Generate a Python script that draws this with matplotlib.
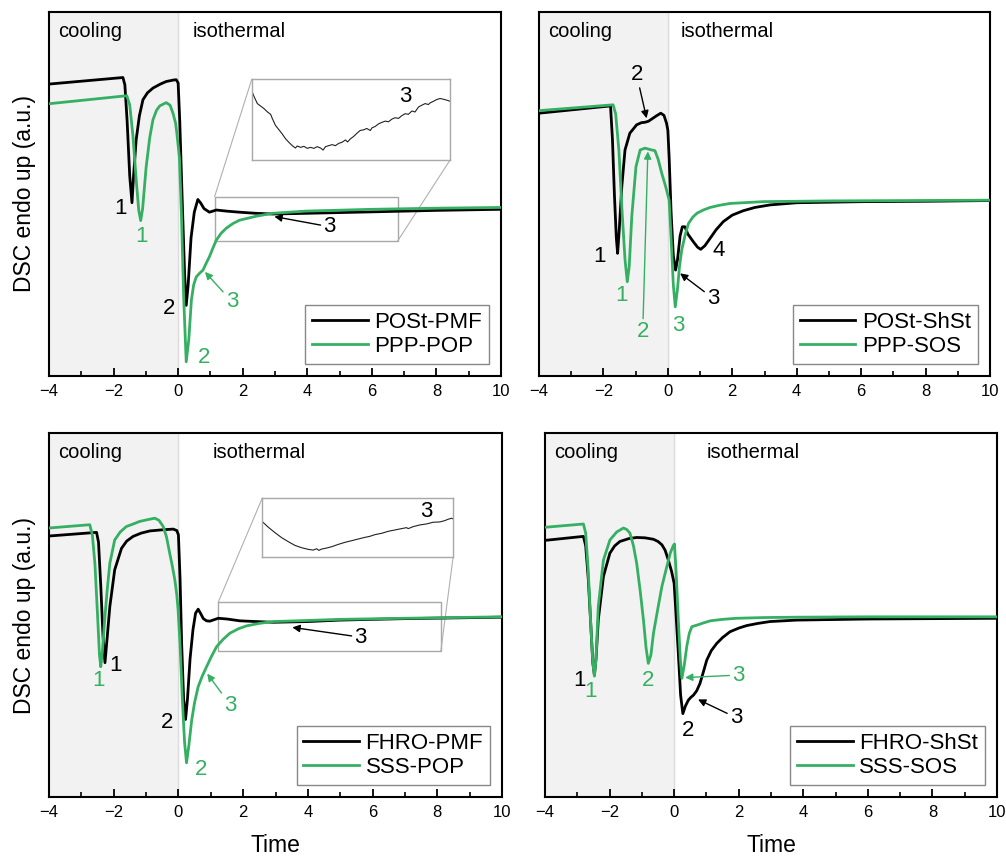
import matplotlib
matplotlib.use("Agg")
import matplotlib.pyplot as plt
from matplotlib.patches import Rectangle

plt.rcParams['font.family'] = ['Liberation Sans', 'DejaVu Sans']

GREEN = '#35b062'
GREY = '#9a9a9a'

# ---- data (time, arbitrary DSC units 0-100) ----
# top left: POSt-PMF / PPP-POP
tl_black_x = [-4.0, -1.71, -1.65, -1.58, -1.50, -1.43, -1.38, -1.30, -1.20, -1.09, -0.95, -0.78, -0.55,
              -0.37, -0.15, -0.06, 0.00, 0.05, 0.12, 0.20, 0.25, 0.31, 0.40, 0.50, 0.61, 0.70, 0.80,
              0.97, 1.18, 1.50, 1.90, 2.40, 2.93, 4.0, 6.03, 8.0, 10.0]
tl_black_y = [80.2, 82.0, 80.0, 70.0, 55.0, 47.6, 55.0, 64.9, 71.5, 75.9, 77.8, 79.1, 80.2,
              80.9, 81.3, 81.4, 80.5, 70.0, 50.0, 28.0, 19.4, 25.0, 38.0, 45.0, 48.5, 47.5, 46.0,
              45.0, 45.6, 45.3, 45.0, 44.7, 44.5, 44.7, 45.1, 45.5, 45.8]
tl_green_x = [-4.0, -1.59, -1.50, -1.40, -1.30, -1.22, -1.16, -1.10, -0.99, -0.88, -0.78, -0.67, -0.57,
              -0.37, -0.25, -0.16, -0.08, -0.04, 0.04, 0.10, 0.17, 0.25, 0.33, 0.41, 0.48, 0.56, 0.66,
              0.77, 0.87, 0.97, 1.08, 1.18, 1.33, 1.49, 1.70, 1.90, 2.42, 2.93, 3.96, 6.03, 8.0, 10.0]
tl_green_y = [74.8, 77.0, 74.5, 66.0, 54.0, 45.5, 42.7, 46.0, 57.5, 65.5, 70.4, 73.0, 74.2,
              75.1, 74.4, 72.2, 69.5, 66.7, 60.0, 45.0, 22.0, 3.9, 10.0, 20.8, 25.0, 27.2, 28.2,
              29.1, 31.0, 32.8, 35.2, 37.3, 39.2, 40.6, 41.9, 42.8, 43.9, 44.7, 45.3, 45.8, 46.1, 46.3]
tl_inset_x = [1.13, 1.20, 1.29, 1.39, 1.48, 1.58, 1.67, 1.72, 1.81, 1.91, 2.00, 2.10, 2.19, 2.29, 2.38,
              2.43, 2.53, 2.62, 2.72, 2.81, 2.91, 3.00, 3.10, 3.17, 3.24, 3.33, 3.43, 3.52, 3.62, 3.71,
              3.81, 3.87, 3.95, 4.04, 4.14, 4.23, 4.33, 4.42, 4.52, 4.57, 4.66, 4.76, 4.85, 4.95, 5.04,
              5.14, 5.23, 5.33, 5.42, 5.52, 5.61, 5.71, 5.80, 5.90, 5.99, 6.09, 6.18, 6.23, 6.33, 6.42,
              6.52, 6.61, 6.71, 6.80]
tl_inset_y = [85.8, 78.3, 70.0, 66.7, 63.8, 59.6, 56.7, 51.3, 42.9, 37.5, 32.5, 26.3, 22.1, 17.9, 15.0,
              17.5, 15.8, 17.1, 14.6, 15.8, 14.6, 16.7, 15.0, 12.5, 16.7, 17.9, 19.2, 17.9, 20.8, 22.1,
              25.0, 22.5, 26.3, 29.2, 33.3, 36.7, 37.5, 39.2, 36.7, 40.0, 41.7, 45.0, 46.7, 48.3, 47.5,
              50.8, 52.5, 51.7, 55.0, 57.5, 56.7, 60.8, 59.6, 65.8, 67.9, 70.0, 68.8, 70.8, 72.9, 75.0,
              76.3, 75.4, 74.2, 72.9]

# top right: POSt-ShSt / PPP-SOS
tr_black_x = [-4.0, -1.78, -1.72, -1.66, -1.60, -1.56, -1.51, -1.43, -1.33, -1.18, -0.97, -0.82, -0.71,
              -0.60, -0.50, -0.35, -0.22, -0.12, -0.04, 0.00, 0.04, 0.10, 0.17, 0.24, 0.30, 0.38, 0.45,
              0.53, 0.62, 0.79, 0.92, 1.02, 1.15, 1.31, 1.50, 1.72, 2.00, 2.34, 2.70, 3.17, 4.00, 6.07,
              8.0, 10.0]
tr_black_y = [72.2, 74.2, 65.0, 50.0, 38.0, 33.7, 40.0, 52.0, 62.1, 66.7, 69.0, 69.6, 69.7,
              70.0, 70.6, 71.5, 72.2, 71.6, 69.4, 67.5, 60.0, 45.0, 33.0, 29.1, 32.0, 38.5, 41.0,
              41.0, 39.0, 36.9, 35.4, 34.8, 35.8, 37.8, 40.2, 42.4, 44.2, 45.4, 46.3, 47.0, 47.6, 47.9,
              48.0, 48.2]
tr_green_x = [-4.0, -1.70, -1.62, -1.52, -1.42, -1.33, -1.26, -1.20, -1.12, -0.99, -0.86, -0.71, -0.55,
              -0.40, -0.30, -0.19, -0.10, -0.04, 0.04, 0.10, 0.17, 0.23, 0.30, 0.36, 0.43, 0.53, 0.64,
              0.77, 0.90, 1.10, 1.31, 1.60, 1.93, 2.97, 5.0, 10.0]
tr_green_y = [72.9, 74.5, 72.0, 62.0, 45.0, 32.0, 25.9, 30.0, 43.8, 57.5, 62.1, 62.6, 62.2,
              61.9, 59.5, 55.7, 53.0, 51.1, 48.3, 38.0, 25.0, 19.0, 24.0, 30.0, 34.6, 38.5, 41.9,
              43.6, 44.7, 45.6, 46.3, 46.9, 47.4, 47.9, 48.1, 48.3]

# bottom left: FHRO-PMF / SSS-POP
bl_black_x = [-4.0, -2.53, -2.47, -2.40, -2.33, -2.27, -2.20, -2.12, -1.97, -1.76, -1.60, -1.40, -1.15,
              -0.88, -0.50, -0.16, -0.05, 0.00, 0.05, 0.10, 0.16, 0.22, 0.28, 0.36, 0.45, 0.53, 0.61,
              0.68, 0.77, 0.87, 0.97, 1.10, 1.23, 1.50, 1.90, 2.40, 2.93, 4.0, 4.99, 7.0, 10.0]
bl_black_y = [71.7, 72.7, 70.0, 58.0, 44.0, 36.9, 44.0, 52.3, 62.4, 68.3, 70.3, 71.6, 72.5,
              73.1, 73.4, 73.6, 73.2, 72.0, 60.0, 42.0, 27.0, 21.3, 27.0, 38.0, 46.0, 50.5, 51.6,
              50.5, 49.0, 48.4, 48.3, 48.7, 49.1, 48.9, 48.4, 48.2, 48.0, 48.2, 48.6, 49.0, 49.4]
bl_green_x = [-4.0, -2.74, -2.66, -2.58, -2.50, -2.44, -2.40, -2.35, -2.28, -2.20, -2.12, -1.97, -1.80,
              -1.61, -1.40, -1.20, -0.95, -0.73, -0.60, -0.47, -0.37, -0.27, -0.19, -0.11, -0.05, -0.01,
              0.05, 0.12, 0.19, 0.25, 0.32, 0.41, 0.50, 0.61, 0.74, 0.87, 1.02, 1.18, 1.38, 1.59, 1.85,
              2.10, 2.50, 2.93, 4.0, 4.99, 7.0, 10.0]
bl_green_y = [73.9, 74.8, 72.0, 64.0, 50.0, 39.0, 35.8, 40.0, 48.6, 57.0, 64.2, 70.6, 72.8,
              74.3, 75.0, 75.7, 76.2, 76.6, 76.0, 74.3, 71.5, 67.0, 63.5, 59.6, 55.5, 51.4,
              42.0, 27.0, 15.0, 9.4, 14.0, 21.1, 26.0, 30.3, 33.3, 35.8, 38.6, 41.3, 43.3, 45.0, 46.2,
              47.0, 47.7, 48.2, 48.5, 48.8, 49.1, 49.5]
bl_inset_x = [1.23, 1.45, 1.69, 1.93, 2.17, 2.41, 2.65, 2.89, 3.07, 3.19, 3.27, 3.37, 3.55, 3.73, 3.97,
              4.21, 4.45, 4.69, 4.93, 5.11, 5.29, 5.53, 5.77, 6.01, 6.25, 6.43, 6.49, 6.67, 6.91, 7.15,
              7.39, 7.63, 7.81, 7.93, 8.05, 8.11]
bl_inset_y = [60.0, 50.3, 41.1, 32.6, 25.7, 19.4, 15.4, 12.6, 11.4, 13.7, 10.9, 13.1, 14.9, 17.1, 21.1,
              24.6, 27.4, 30.3, 33.1, 34.9, 37.7, 40.0, 43.4, 45.7, 48.0, 49.7, 48.0, 51.4, 54.3, 56.0,
              58.9, 59.4, 61.7, 64.0, 65.7, 64.6]

# bottom right: FHRO-ShSt / SSS-SOS
br_black_x = [-4.0, -2.81, -2.74, -2.66, -2.58, -2.52, -2.47, -2.42, -2.35, -2.19, -1.99, -1.84, -1.68,
              -1.40, -1.16, -0.90, -0.64, -0.50, -0.38, -0.28, -0.18, -0.08, 0.00, 0.06, 0.13, 0.20,
              0.27, 0.35, 0.44, 0.52, 0.60, 0.70, 0.80, 0.90, 1.01, 1.15, 1.32, 1.50, 1.73, 2.00, 2.25,
              2.60, 2.97, 3.80, 6.0, 10.0]
br_black_y = [70.5, 71.6, 69.0, 60.0, 47.0, 37.0, 33.5, 38.0, 48.6, 60.6, 67.0, 69.0, 70.2,
              71.0, 71.3, 71.2, 70.8, 70.2, 69.3, 67.8, 65.1, 62.0, 58.7, 50.0, 39.4, 28.0,
              22.9, 25.0, 26.6, 27.4, 28.0, 29.2, 31.2, 34.2, 37.6, 40.2, 42.2, 43.8, 45.4, 46.4, 47.1,
              47.7, 48.2, 48.6, 48.9, 49.1]
br_green_x = [-4.0, -2.81, -2.74, -2.66, -2.58, -2.52, -2.47, -2.42, -2.35, -2.19, -1.99, -1.78, -1.57,
              -1.47, -1.37, -1.26, -1.16, -1.05, -0.95, -0.87, -0.80, -0.72, -0.64, -0.50, -0.38, -0.25,
              -0.12, -0.03, 0.01, 0.06, 0.13, 0.19, 0.24, 0.31, 0.39, 0.47, 0.55, 0.70, 0.90, 1.12, 1.50,
              1.94, 2.80, 3.80, 6.0, 10.0]
br_green_y = [74.1, 75.0, 72.5, 62.0, 47.0, 37.0, 33.2, 38.0, 52.3, 65.1, 70.6, 72.8, 73.9,
              73.5, 72.5, 69.0, 64.2, 56.5, 48.6, 41.0, 36.7, 39.0, 45.0, 52.0, 57.8, 62.5,
              67.0, 69.0, 69.5, 62.0, 48.6, 38.0, 32.6, 36.0, 41.3, 45.0, 46.8, 47.2, 47.8, 48.4, 48.8,
              49.1, 49.3, 49.4, 49.5, 49.5]

labels = [("POSt-PMF", "PPP-POP"), ("POSt-ShSt", "PPP-SOS"),
          ("FHRO-PMF", "SSS-POP"), ("FHRO-ShSt", "SSS-SOS")]
x_ticks = [-4, -2, 0, 2, 4, 6, 8, 10]

fig = plt.figure(figsize=(10.06, 8.56), dpi=100)
W, H = 1006, 856


def make_axes(left, right, top, bottom):
    return fig.add_axes([left / W, 1 - bottom / H, (right - left) / W, (bottom - top) / H])


def setup(ax, names, iso_x):
    ax.axvspan(-4, 0, color='#f2f2f2', zorder=0)
    ax.axvline(0, color='#dcdcdc', lw=1, zorder=0.5)
    ax.set_xlim(-4, 10)
    ax.set_ylim(0, 100)
    ax.set_yticks([])
    ax.set_xticks(x_ticks)
    ax.set_xticks([-3, -1, 1, 3, 5, 7, 9], minor=True)
    ax.tick_params(axis='x', which='major', direction='in', length=6, width=1.3, labelsize=12, pad=6)
    ax.tick_params(axis='x', which='minor', direction='in', length=3.5, width=1.2)
    ax.set_xticklabels(['\u22124', '\u22122', '0', '2', '4', '6', '8', '10'])
    for s in ax.spines.values():
        s.set_linewidth(1.5)
    ax.text(-3.72, 94.6, 'cooling', fontsize=14.5, ha='left', va='center')
    ax.text(iso_x, 94.6, 'isothermal', fontsize=14.5, ha='left', va='center')


def curves(ax, bx, by, gx, gy, names):
    ax.plot(bx, by, color='black', lw=2, label=names[0], zorder=3)
    ax.plot(gx, gy, color=GREEN, lw=2, label=names[1], zorder=3)
    leg = ax.legend(loc='lower right', fontsize=16, frameon=True, fancybox=False,
                    edgecolor='#888888', framealpha=1, handlelength=2.5, handletextpad=0.3,
                    labelspacing=0.15, borderpad=0.3, borderaxespad=0.55)
    leg.get_frame().set_linewidth(1)


def note(ax, s, xy, color='black', target=None):
    if target is None:
        ax.text(xy[0], xy[1], s, color=color, fontsize=16, ha='center', va='center', zorder=4)
    else:
        ax.annotate(s, xy=target, xytext=xy, color=color, fontsize=16, ha='center', va='center',
                    zorder=4, arrowprops=dict(arrowstyle='-|>', color=color, lw=1,
                                              mutation_scale=11, shrinkA=0, shrinkB=0))


def zoom_box(ax, rect, box, ix, iy, lab_xy):
    x0, x1, y0, y1 = rect
    bx0, bx1, by0, by1 = box
    ax.add_patch(Rectangle((x0, y0), x1 - x0, y1 - y0, fill=False, ec='#a8a8a8', lw=1, zorder=2))
    ax.plot([x0, bx0], [y1, by1], color='#b0b0b0', lw=0.8, zorder=2)
    ax.plot([x1, bx1], [y0, by0], color='#b0b0b0', lw=0.8, zorder=2)
    ins = ax.inset_axes([bx0, by0, bx1 - bx0, by1 - by0], transform=ax.transData)
    ins.plot(ix, iy, color='#222222', lw=0.8)
    ins.set_xlim(x0, x1)
    ins.set_ylim(0, 100)
    ins.set_xticks([])
    ins.set_yticks([])
    for s in ins.spines.values():
        s.set_color('#a8a8a8')
        s.set_linewidth(1)
    ins.text(lab_xy[0], lab_xy[1], '3', fontsize=16, ha='center', va='center')


# top left
ax1 = make_axes(49, 501, 12, 376)
setup(ax1, labels[0], 0.45)
curves(ax1, tl_black_x, tl_black_y, tl_green_x, tl_green_y, labels[0])
zoom_box(ax1, (1.13, 6.80, 37.1, 49.3), (2.28, 8.42, 59.3, 81.5), tl_inset_x, tl_inset_y, (5.52, 79.2))
note(ax1, '1', (-1.79, 46.1))
note(ax1, '1', (-1.14, 38.3), GREEN)
note(ax1, '2', (-0.27, 18.5))
note(ax1, '2', (0.80, 5.2), GREEN)
note(ax1, '3', (1.67, 20.4), GREEN, (0.83, 28.6))
note(ax1, '3', (4.69, 41.0), 'black', (2.98, 43.8))

# top right
ax2 = make_axes(539, 990, 12, 376)
setup(ax2, labels[1], 0.40)
curves(ax2, tr_black_x, tr_black_y, tr_green_x, tr_green_y, labels[1])
note(ax2, '1', (-2.11, 32.8))
note(ax2, '1', (-1.43, 22.2), GREEN)
note(ax2, '2', (-0.97, 82.8), 'black', (-0.66, 70.8))
note(ax2, '2', (-0.78, 12.1), GREEN, (-0.62, 61.7))
note(ax2, '3', (0.31, 13.9), GREEN)
note(ax2, '3', (1.41, 21.3), 'black', (0.38, 28.2))
note(ax2, '4', (1.57, 34.6))

# bottom left
ax3 = make_axes(49, 502, 433, 797)
setup(ax3, labels[2], 1.06)
curves(ax3, bl_black_x, bl_black_y, bl_green_x, bl_green_y, labels[2])
zoom_box(ax3, (1.23, 8.11, 40.1, 53.5), (2.59, 8.49, 66.0, 82.1), bl_inset_x, bl_inset_y, (7.15, 77.0))
note(ax3, '1', (-1.94, 36.0))
note(ax3, '1', (-2.48, 31.9), GREEN)
note(ax3, '2', (-0.34, 20.6))
note(ax3, '2', (0.70, 7.5), GREEN)
note(ax3, '3', (1.61, 25.2), GREEN, (0.89, 33.9))
note(ax3, '3', (5.63, 43.9), 'black', (3.52, 46.6))

# bottom right
ax4 = make_axes(545, 997, 433, 797)
setup(ax4, labels[3], 1.01)
curves(ax4, br_black_x, br_black_y, br_green_x, br_green_y, labels[3])
note(ax4, '1', (-2.94, 31.9))
note(ax4, '1', (-2.58, 28.9), GREEN)
note(ax4, '2', (-0.80, 32.1), GREEN)
note(ax4, '2', (0.44, 18.2))
note(ax4, '3', (1.99, 33.5), GREEN, (0.34, 32.8))
note(ax4, '3', (1.92, 21.8), 'black', (0.74, 26.8))

for yc in (194, 615):
    fig.text(25 / W, 1 - yc / H, 'DSC endo up (a.u.)', rotation=90, fontsize=16.5,
             ha='center', va='center')
for xc in (275, 771):
    fig.text(xc / W, 1 - 845 / H, 'Time', fontsize=16.5, ha='center', va='center')

fig.savefig('out.png', dpi=100)
